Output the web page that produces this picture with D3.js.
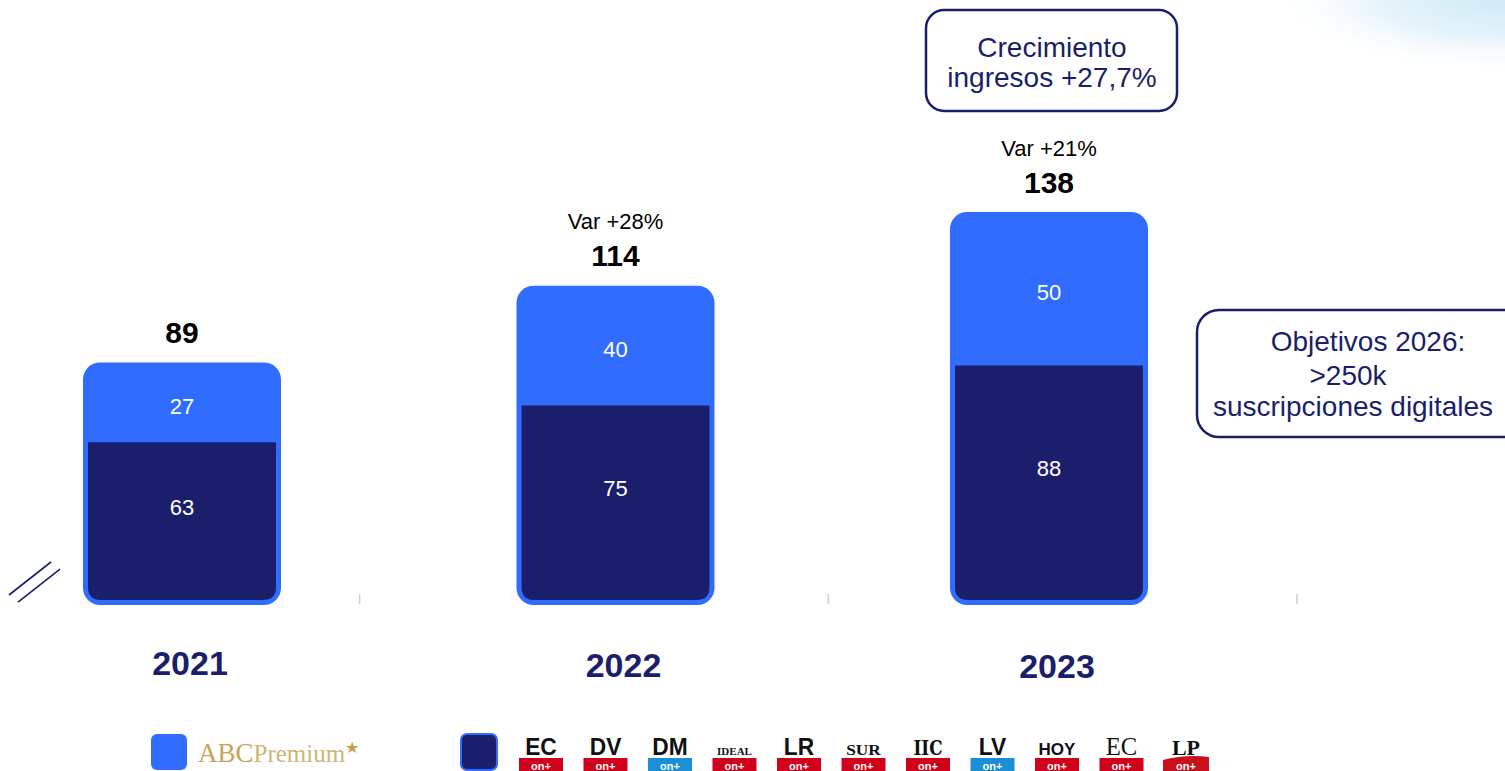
<!DOCTYPE html>
<html><head><meta charset="utf-8">
<script src="https://cdn.jsdelivr.net/npm/d3@7"></script>
<style>
html,body{margin:0;padding:0;background:#fff;}
svg{display:block;font-family:"Liberation Sans",Arial,sans-serif;}
</style></head>
<body>
<svg id="c" width="1505" height="771"></svg>
<script>
// ---- data ----
const years = ["2021", "2022", "2023"];
const abcPremium = [27, 40, 50];
const regional = [63, 75, 88];
const totals = [89, 114, 138];
const varLabels = ["", "Var +28%", "Var +21%"];
const noteRevenue = ["Crecimiento", "ingresos +27,7%"];
const noteTarget = ["Objetivos 2026:", ">250k", "suscripciones digitales"];
const legendABC = "ABCPremium";
const papers = [
  {t:"EC", f:"sans", c:"#d0021b"}, {t:"DV", f:"sans", c:"#d0021b"}, {t:"DM", f:"sans", c:"#1a8fd6"},
  {t:"IDEAL", f:"serifS", c:"#d0021b"}, {t:"LR", f:"sans", c:"#d0021b"}, {t:"SUR", f:"serifM", c:"#d0021b"},
  {t:"IIC", f:"goth", c:"#d0021b"}, {t:"LV", f:"sans", c:"#1a8fd6"}, {t:"HOY", f:"sansS", c:"#d0021b"},
  {t:"EC", f:"serif", c:"#d0021b"}, {t:"LP", f:"serifB", c:"#c8101e"}
];

const BLUE = "#306cfe", NAVY = "#1b1f6b";
const svg = d3.select("#c");
const defs = svg.append("defs");

// top-right light wash
const rg = defs.append("radialGradient").attr("id","wash");
rg.append("stop").attr("offset","0%").attr("stop-color","#cde9f6");
rg.append("stop").attr("offset","55%").attr("stop-color","#e6f4fb");
rg.append("stop").attr("offset","100%").attr("stop-color","#ffffff").attr("stop-opacity",0);
svg.append("ellipse").attr("cx",1505).attr("cy",-5).attr("rx",240).attr("ry",80).attr("fill","url(#wash)");

// scales
const y = d3.scaleLinear().domain([10, 138]).range([605, 212]);
const x = d3.scalePoint().domain(years).range([182, 1049]);
const tickScale = d3.scaleBand().domain(years).range([-109, 1297]);
const barW = 198;
const base = y(10);

// axis ticks
svg.append("g").selectAll("line").data(years).join("line")
  .attr("x1", d => tickScale(d) + tickScale.bandwidth()).attr("x2", d => tickScale(d) + tickScale.bandwidth())
  .attr("y1", base - 11).attr("y2", base - 1)
  .attr("stroke", "#cfcfcf").attr("stroke-width", 1.5);

// axis break
[0, 9].forEach(o => {
  svg.append("line").attr("x1", 9 + o).attr("y1", 595 + o*0.8).attr("x2", 51 + o).attr("y2", 562 + o*0.8)
    .attr("stroke", NAVY).attr("stroke-width", 1.6);
});

function bottomRounded(x0, y0, w, h, r) {
  return `M${x0},${y0}H${x0+w}V${y0+h-r}Q${x0+w},${y0+h} ${x0+w-r},${y0+h}H${x0+r}Q${x0},${y0+h} ${x0},${y0+h-r}Z`;
}

const g = svg.append("g");
years.forEach((yr, i) => {
  const cx = x(yr);
  g.append("rect").attr("x", cx - barW/2).attr("y", y(totals[i])).attr("width", barW)
    .attr("height", base - y(totals[i])).attr("rx", 17).attr("fill", BLUE);
  g.append("path").attr("d", bottomRounded(cx - barW/2 + 5, y(regional[i]), barW - 10, base - 5 - y(regional[i]), 13))
    .attr("fill", NAVY);
  g.append("text").attr("x", cx).attr("y", (y(totals[i]) + y(regional[i]))/2 + 4)
    .attr("text-anchor","middle").attr("dominant-baseline","central")
    .attr("fill","#fff").attr("font-size",22).text(abcPremium[i]);
  g.append("text").attr("x", cx).attr("y", (y(regional[i]) + base - 5)/2 - 14)
    .attr("text-anchor","middle").attr("dominant-baseline","central")
    .attr("fill","#fff").attr("font-size",22).text(regional[i]);
  g.append("text").attr("x", cx).attr("y", y(totals[i]) - 30)
    .attr("text-anchor","middle").attr("dominant-baseline","central")
    .attr("fill","#000").attr("font-size",30).attr("font-weight","bold").text(totals[i]);
  if (varLabels[i]) {
    g.append("text").attr("x", cx).attr("y", y(totals[i]) - 64)
      .attr("text-anchor","middle").attr("dominant-baseline","central")
      .attr("fill","#000").attr("font-size",22).text(varLabels[i]);
  }
  g.append("text").attr("x", cx + 8).attr("y", 663 + i*1.5)
    .attr("text-anchor","middle").attr("dominant-baseline","central")
    .attr("fill", NAVY).attr("font-size",34).attr("font-weight","bold").text(yr);
});

// annotation boxes
svg.append("rect").attr("x",926).attr("y",10).attr("width",251).attr("height",101).attr("rx",18)
  .attr("fill","#fff").attr("stroke",NAVY).attr("stroke-width",2.5);
noteRevenue.forEach((t, i) => {
  svg.append("text").attr("x",1052).attr("y",57 + i*30).attr("text-anchor","middle")
    .attr("fill", NAVY).attr("font-size",28).text(t);
});
svg.append("rect").attr("x",1197).attr("y",310).attr("width",330).attr("height",127).attr("rx",22)
  .attr("fill","#fff").attr("stroke",NAVY).attr("stroke-width",2.5);
const tx = [1368, 1348, 1353], ty = [351, 385, 416];
noteTarget.forEach((t, i) => {
  svg.append("text").attr("x",tx[i]).attr("y",ty[i]).attr("text-anchor","middle")
    .attr("fill", NAVY).attr("font-size",28).text(t);
});

// legend
const lg = svg.append("g");
lg.append("rect").attr("x",151).attr("y",734).attr("width",36).attr("height",36).attr("rx",6).attr("fill",BLUE);
const abcT = lg.append("text").attr("x",198).attr("y",762).attr("fill","#c6a757")
  .attr("font-family","'Liberation Serif','DejaVu Serif',serif");
abcT.append("tspan").attr("font-size",27).text(legendABC.slice(0,3));
abcT.append("tspan").attr("font-size",25).attr("fill","#cdb573").text(legendABC.slice(3));
abcT.append("tspan").attr("font-size",16).attr("dy",-9).attr("fill","#c6a040").text("★");

lg.append("rect").attr("x",461).attr("y",734).attr("width",36).attr("height",36).attr("rx",6)
  .attr("fill",NAVY).attr("stroke",BLUE).attr("stroke-width",2);

const px = d3.scalePoint().domain(d3.range(papers.length)).range([541, 1186]);
const fonts = {
  sans: {ff:"'Liberation Sans',Arial,sans-serif", fs:24, fw:"bold", sx:0.95},
  sansS: {ff:"'Liberation Sans',Arial,sans-serif", fs:17, fw:"bold", sx:1},
  serifS: {ff:"'Liberation Serif',serif", fs:11, fw:"bold", sx:1},
  serifM: {ff:"'Liberation Serif',serif", fs:15, fw:"bold", sx:1.15},
  goth: {ff:"'DejaVu Serif',serif", fs:21, fw:"bold", sx:0.8},
  serif: {ff:"'Liberation Serif',serif", fs:26, fw:"normal", sx:0.95},
  serifB: {ff:"'Liberation Serif',serif", fs:22, fw:"bold", sx:1}
};
papers.forEach((p, i) => {
  const cx = px(i), f = fonts[p.f];
  const pg = lg.append("g").attr("transform", `translate(${cx},0)`);
  pg.append("text").attr("x",0).attr("y",755).attr("text-anchor","middle")
    .attr("transform", `scale(${f.sx},1)`)
    .attr("font-family", f.ff).attr("font-size", f.fs).attr("font-weight", f.fw)
    .attr("fill","#111").text(p.t);
  if (p.f === "serifB") {
    pg.append("path").attr("d","M-23,760 Q0,754 23,757 V771 H-23 Z").attr("fill",p.c);
  } else {
    pg.append("rect").attr("x",-22).attr("y",758).attr("width",44).attr("height",13).attr("fill",p.c);
  }
  pg.append("text").attr("x",0).attr("y",769.5).attr("text-anchor","middle")
    .attr("font-size",11).attr("font-weight","bold").attr("fill","#fff").text("on+");
});
</script>
</body></html>
